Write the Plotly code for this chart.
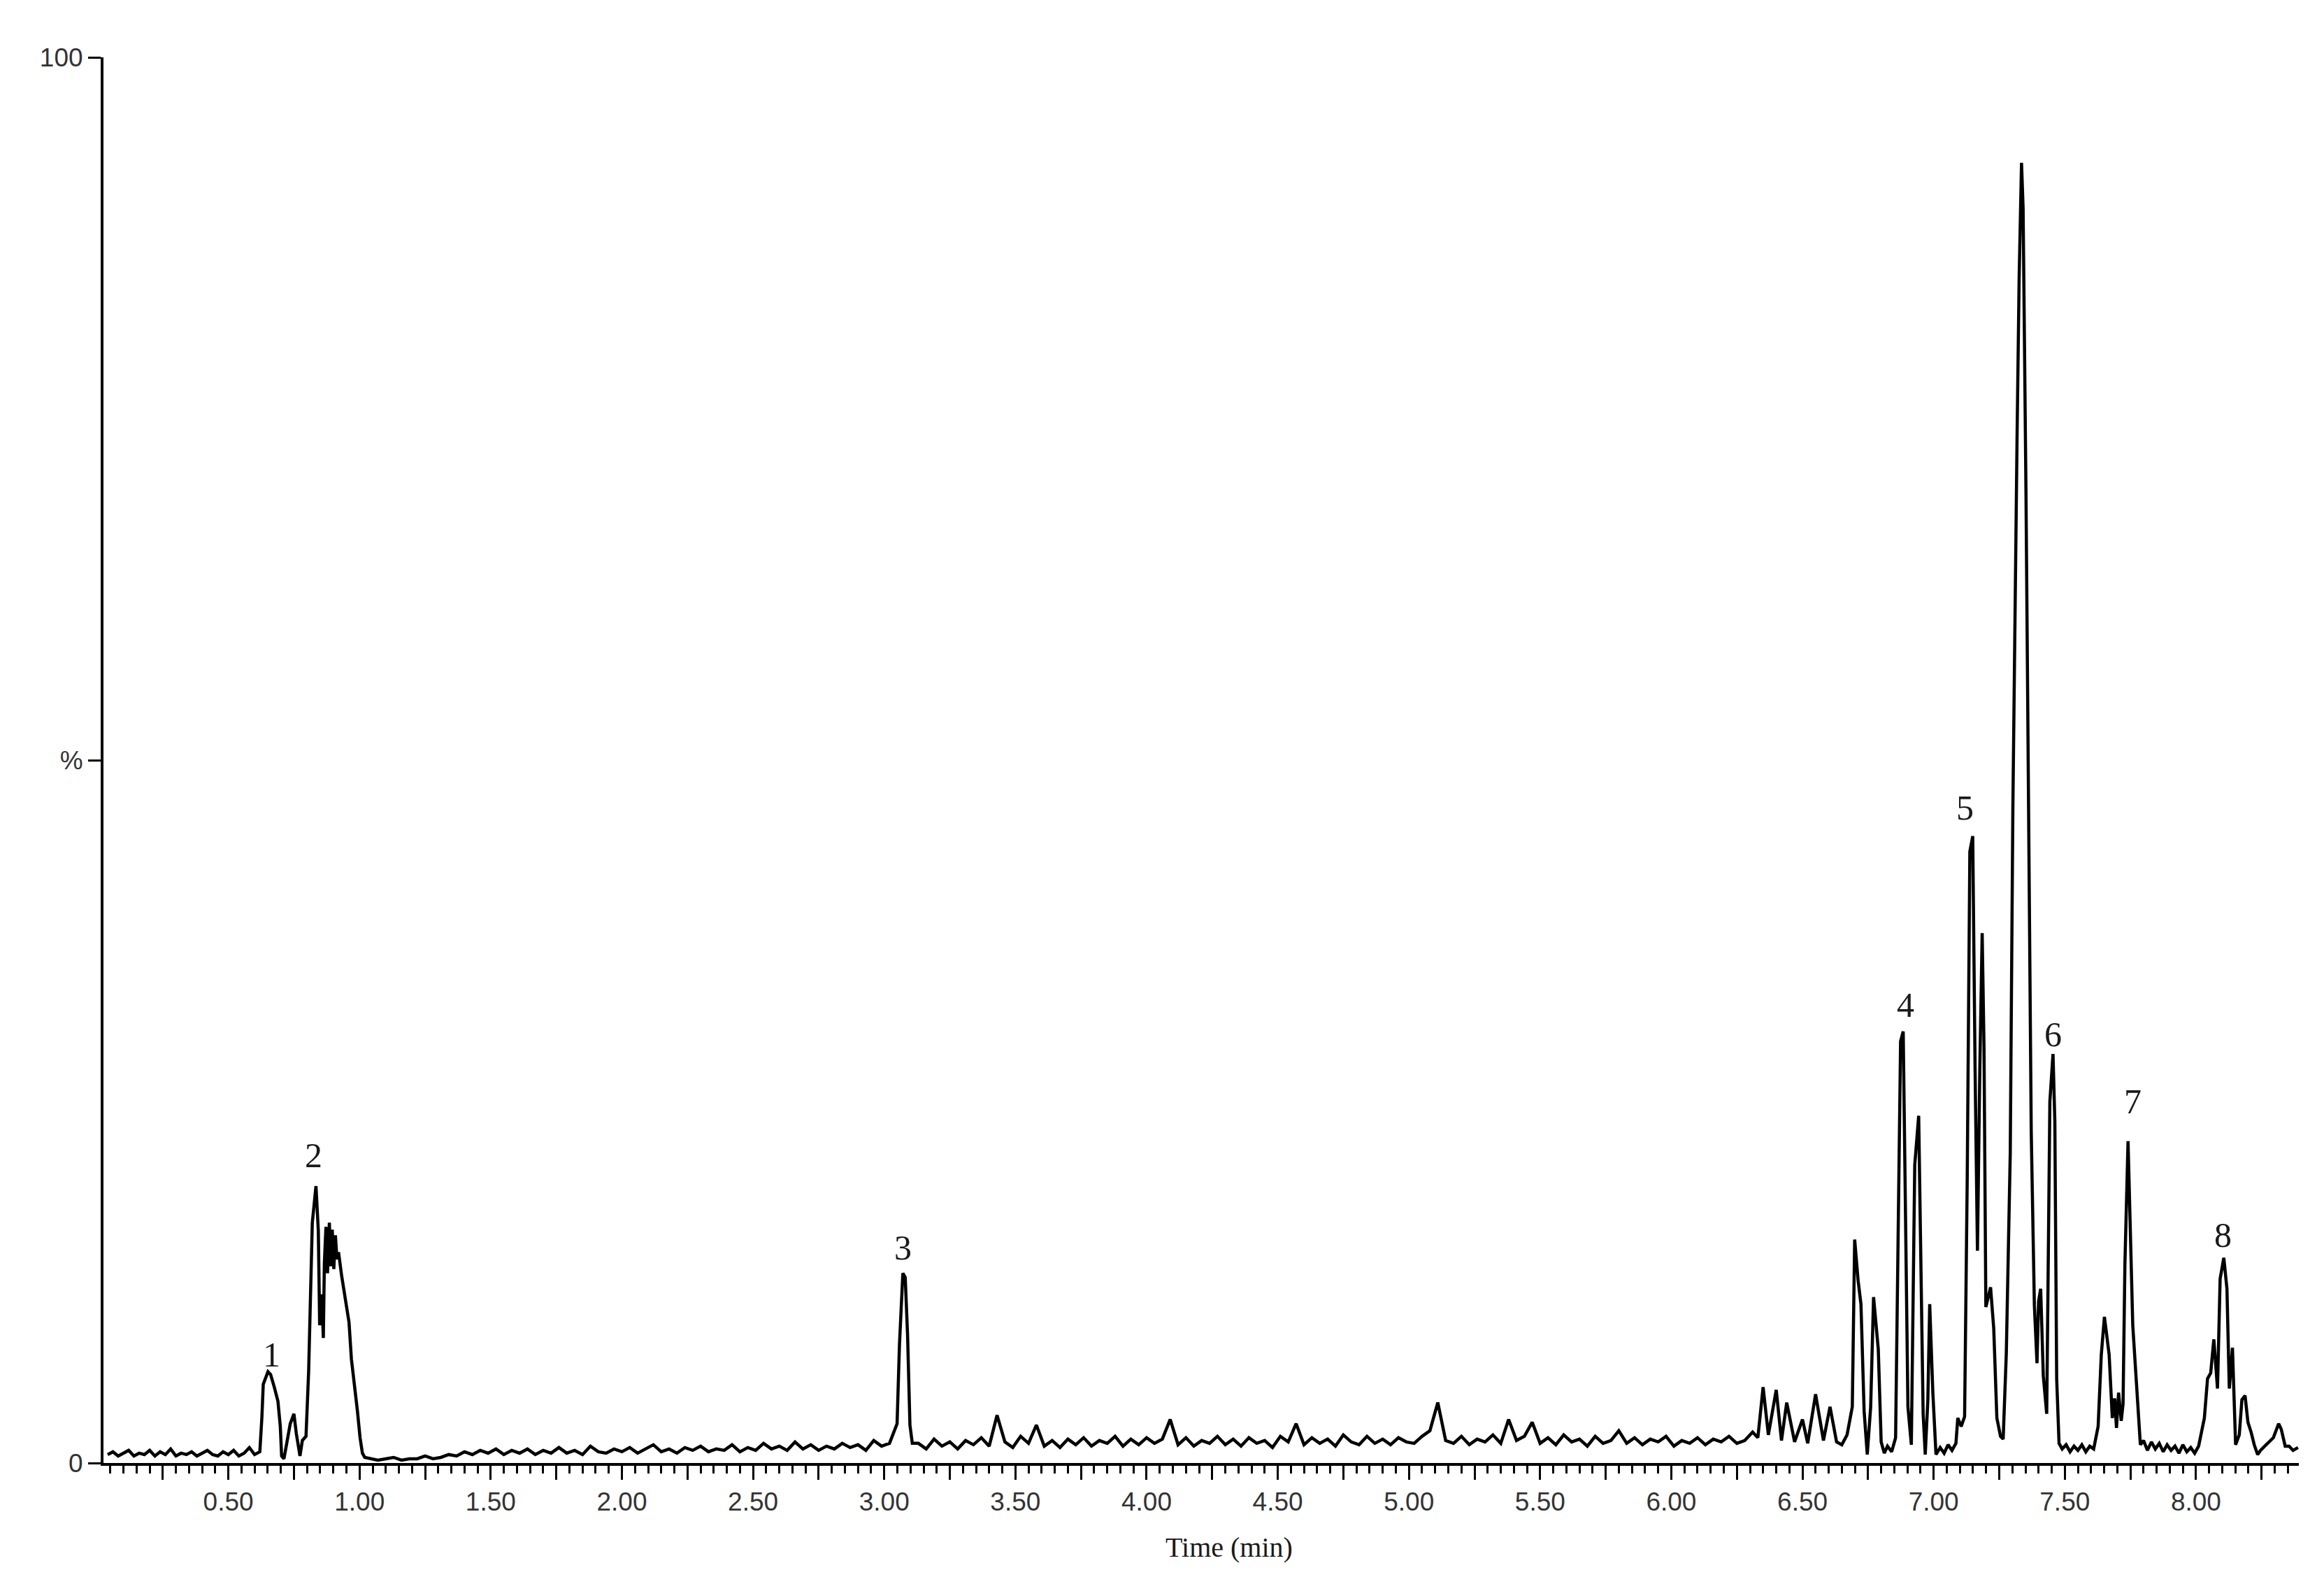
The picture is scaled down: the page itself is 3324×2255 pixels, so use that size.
import plotly.graph_objects as go

# retention time (min) and relative intensity (%)
t_front = [0.04, 0.06, 0.08, 0.10, 0.12, 0.14, 0.16, 0.18, 0.20, 0.22,
           0.24, 0.26, 0.28, 0.30, 0.32, 0.34, 0.36, 0.38, 0.40, 0.42,
           0.44, 0.46, 0.48, 0.50, 0.52, 0.54, 0.56, 0.58, 0.60, 0.62,
           0.628, 0.633, 0.651, 0.661, 0.675, 0.689, 0.698, 0.703, 0.712, 0.722,
           0.736, 0.750, 0.759, 0.773, 0.782, 0.796, 0.806, 0.820, 0.834, 0.843,
           0.848, 0.856, 0.862, 0.866, 0.872, 0.878, 0.885, 0.890, 0.896, 0.902,
           0.908, 0.914, 0.920, 0.932, 0.946, 0.960, 0.969, 0.983, 0.992, 1.002,
           1.011, 1.020]
i_front = [0.6, 0.8, 0.5, 0.7, 0.9, 0.5, 0.7, 0.6, 0.9, 0.5,
           0.8, 0.6, 1.0, 0.5, 0.7, 0.6, 0.8, 0.5, 0.7, 0.9,
           0.6, 0.5, 0.8, 0.6, 0.9, 0.5, 0.7, 1.1, 0.6, 0.8,
           3.3, 5.6, 6.5, 6.3, 5.4, 4.4, 2.6, 0.5, 0.3, 1.4,
           2.8, 3.5, 2.1, 0.5, 1.6, 1.9, 6.5, 17.1, 19.7, 16.5,
           9.8, 12.0, 8.9, 14.2, 16.8, 13.5, 17.1, 14.0, 16.6, 13.8,
           16.2, 14.5, 15.0, 13.3, 11.5, 10.0, 7.4, 5.3, 3.7, 1.8,
           0.7, 0.4]

t_mid = [1.04, 1.07, 1.10, 1.13, 1.16, 1.19, 1.22, 1.25, 1.28, 1.31,
         1.34, 1.37, 1.40, 1.43, 1.46, 1.49, 1.52, 1.55, 1.58, 1.61,
         1.64, 1.67, 1.70, 1.73, 1.76, 1.79, 1.82, 1.85, 1.88, 1.91,
         1.94, 1.97, 2.00, 2.03, 2.06, 2.09, 2.12, 2.15, 2.18, 2.21,
         2.24, 2.27, 2.30, 2.33, 2.36, 2.39, 2.42, 2.45, 2.48, 2.51,
         2.54, 2.57, 2.60, 2.63, 2.66, 2.69, 2.72, 2.75, 2.78, 2.81,
         2.84, 2.87, 2.90, 2.93, 2.96, 2.99, 3.02,
         3.049, 3.058, 3.071, 3.080, 3.089, 3.098, 3.107]
i_mid = [0.3, 0.2, 0.3, 0.4, 0.2, 0.3, 0.3, 0.5, 0.3, 0.4,
         0.6, 0.5, 0.8, 0.6, 0.9, 0.7, 1.0, 0.6, 0.9, 0.7,
         1.0, 0.6, 0.9, 0.7, 1.1, 0.7, 0.9, 0.6, 1.2, 0.8,
         0.7, 1.0, 0.8, 1.1, 0.7, 1.0, 1.3, 0.8, 1.0, 0.7,
         1.1, 0.9, 1.2, 0.8, 1.0, 0.9, 1.3, 0.8, 1.1, 0.9,
         1.4, 1.0, 1.2, 0.9, 1.5, 1.0, 1.3, 0.9, 1.2, 1.0,
         1.4, 1.1, 1.3, 0.9, 1.6, 1.2, 1.4,
         2.8, 8.4, 13.5, 13.2, 9.1, 2.7, 1.4]

t_back = [3.13, 3.16, 3.19, 3.22, 3.25, 3.28, 3.31, 3.34, 3.37, 3.40,
          3.43, 3.46, 3.49, 3.52, 3.55, 3.58, 3.61, 3.64, 3.67, 3.70,
          3.73, 3.76, 3.79, 3.82, 3.85, 3.88, 3.91, 3.94, 3.97, 4.00,
          4.03, 4.06, 4.09, 4.12, 4.15, 4.18, 4.21, 4.24, 4.27, 4.30,
          4.33, 4.36, 4.39, 4.42, 4.45, 4.48, 4.51, 4.54, 4.57, 4.60,
          4.63, 4.66, 4.69, 4.72, 4.75, 4.78, 4.81, 4.84, 4.87, 4.90,
          4.93, 4.96, 4.99, 5.02, 5.05, 5.08, 5.11, 5.14, 5.17, 5.20,
          5.23, 5.26, 5.29, 5.32, 5.35, 5.38, 5.41, 5.44, 5.47, 5.50,
          5.53, 5.56, 5.59, 5.62, 5.65, 5.68, 5.71, 5.74, 5.77, 5.80,
          5.83, 5.86, 5.89, 5.92, 5.95, 5.98, 6.01, 6.04, 6.07, 6.10,
          6.13, 6.16, 6.19, 6.22, 6.25, 6.28, 6.31]
i_back = [1.4, 1.0, 1.7, 1.2, 1.5, 1.0, 1.6, 1.3, 1.8, 1.2,
          3.4, 1.5, 1.1, 1.9, 1.4, 2.7, 1.2, 1.6, 1.1, 1.7,
          1.3, 1.8, 1.2, 1.6, 1.4, 1.9, 1.2, 1.7, 1.3, 1.8,
          1.4, 1.7, 3.1, 1.3, 1.8, 1.2, 1.6, 1.4, 1.9, 1.3,
          1.7, 1.2, 1.8, 1.4, 1.6, 1.1, 1.9, 1.5, 2.8, 1.3,
          1.8, 1.4, 1.7, 1.2, 2.0, 1.5, 1.3, 1.9, 1.4, 1.7,
          1.3, 1.8, 1.5, 1.4, 1.9, 2.3, 4.3, 1.6, 1.4, 1.9,
          1.3, 1.7, 1.5, 2.0, 1.4, 3.1, 1.6, 1.9, 2.9, 1.4,
          1.8, 1.3, 2.0, 1.5, 1.7, 1.2, 1.9, 1.4, 1.6, 2.3,
          1.4, 1.8, 1.3, 1.7, 1.5, 1.9, 1.2, 1.6, 1.4, 1.8,
          1.3, 1.7, 1.5, 1.9, 1.4, 1.6, 2.2]

t_late = [6.33, 6.35, 6.37, 6.40, 6.42, 6.44, 6.47, 6.50, 6.52, 6.55,
          6.58, 6.605, 6.63, 6.65, 6.67, 6.69, 6.699, 6.712, 6.723, 6.735,
          6.747, 6.760, 6.771, 6.789, 6.800, 6.812, 6.824, 6.840, 6.855, 6.862,
          6.874, 6.884, 6.893, 6.902, 6.915, 6.928, 6.943, 6.952, 6.960, 6.968,
          6.978, 6.985, 6.997, 7.009, 7.025, 7.040, 7.055, 7.070, 7.085, 7.092,
          7.105, 7.118, 7.128, 7.138, 7.149, 7.158, 7.167, 7.176, 7.185, 7.192,
          7.199, 7.217, 7.229, 7.241, 7.255, 7.265, 7.277, 7.292, 7.302, 7.318,
          7.326, 7.335, 7.341, 7.352, 7.362, 7.372, 7.384, 7.394, 7.400, 7.408,
          7.418, 7.431, 7.443, 7.455, 7.462, 7.469, 7.478, 7.490, 7.505, 7.520,
          7.535, 7.550, 7.565, 7.580, 7.595, 7.610, 7.627, 7.639, 7.651, 7.669,
          7.681, 7.690, 7.697, 7.705, 7.715, 7.722, 7.729, 7.741, 7.759, 7.776,
          7.788, 7.800, 7.815, 7.830, 7.845, 7.860, 7.875, 7.890, 7.905, 7.920,
          7.935, 7.950, 7.965, 7.980, 7.995, 8.010, 8.032, 8.044, 8.056, 8.068,
          8.082, 8.092, 8.106, 8.118, 8.127, 8.139, 8.151, 8.165, 8.175, 8.187,
          8.198, 8.210, 8.222, 8.235, 8.246, 8.262, 8.280, 8.295, 8.315, 8.325,
          8.340, 8.355, 8.370, 8.389]
i_late = [1.8, 5.4, 2.0, 5.2, 1.6, 4.3, 1.5, 3.1, 1.4, 4.9,
          1.6, 4.0, 1.5, 1.3, 2.0, 4.0, 15.9, 13.0, 11.3, 3.7,
          0.6, 4.0, 11.8, 8.1, 1.5, 0.7, 1.2, 0.8, 1.8, 12.0,
          30.0, 30.7, 15.5, 4.0, 1.3, 21.2, 24.7, 14.6, 3.5, 0.6,
          4.5, 11.3, 5.0, 0.6, 1.1, 0.7, 1.3, 0.9, 1.4, 3.2,
          2.6, 3.3, 20.2, 43.5, 44.6, 28.0, 15.1, 28.0, 37.7, 29.6,
          11.1, 12.5, 9.6, 3.2, 1.9, 1.7, 7.8, 22.0, 46.6, 73.0,
          84.4, 92.5, 89.3, 69.0, 43.6, 23.6, 11.2, 7.1, 11.5, 12.4,
          6.2, 3.5, 25.7, 29.1, 24.3, 6.0, 1.4, 1.0, 1.3, 0.8,
          1.2, 0.9, 1.3, 0.8, 1.2, 1.0, 2.6, 7.7, 10.4, 7.7,
          3.2, 4.6, 2.5, 5.0, 3.0, 4.2, 14.1, 22.9, 9.8, 5.0,
          1.3, 1.6, 0.9, 1.5, 1.0, 1.4, 0.8, 1.3, 0.9, 1.2,
          0.7, 1.3, 0.8, 1.1, 0.7, 1.2, 3.2, 6.0, 6.4, 8.8,
          5.3, 13.1, 14.6, 12.4, 5.3, 8.2, 1.3, 2.0, 4.5, 4.8,
          2.9, 2.2, 1.3, 0.6, 0.9, 1.2, 1.5, 1.8, 2.8, 2.4,
          1.2, 1.2, 0.9, 1.1]

# numbered peaks: label, time, height of the label
peak_names = ["1", "2", "3", "4", "5", "6", "7", "8"]
peak_times = [0.666, 0.825, 3.071, 6.892, 7.119, 7.455, 7.759, 8.104]
peak_label_y = [7.7, 21.9, 15.3, 32.6, 46.6, 30.5, 25.7, 16.2]

x_labels = ["0.50", "1.00", "1.50", "2.00", "2.50", "3.00", "3.50", "4.00",
            "4.50", "5.00", "5.50", "6.00", "6.50", "7.00", "7.50", "8.00"]
y_ticks = [0, 50, 100]
y_labels = ["0", "%", "100"]

t = t_front + t_mid + t_back + t_late
inten = i_front + i_mid + i_back + i_late
assert len(t) == len(inten)

# long ticks every 0.25 min, labelled every 0.5 min
major = [round(0.25 * k, 2) for k in range(1, 34)]
label_map = {float(s): s for s in x_labels}
major_text = [label_map.get(v, "") for v in major]

tick_font = dict(family="Liberation Sans Narrow, Liberation Sans, Arial", size=37, color="#333333")
serif = "Liberation Serif, Times New Roman, serif"

fig = go.Figure()
fig.add_trace(go.Scatter(x=t, y=inten, mode="lines",
                         line=dict(color="black", width=4.5),
                         hoverinfo="skip"))

for name, px_, py_ in zip(peak_names, peak_times, peak_label_y):
    fig.add_annotation(x=px_, y=py_, text=name, showarrow=False,
                       xanchor="center", yanchor="middle",
                       font=dict(family=serif, size=50, color="#1a1a1a"))

fig.add_annotation(x=4.315, y=-0.06, xref="x", yref="paper", text="Time (min)",
                   showarrow=False, xanchor="center", yanchor="middle",
                   font=dict(family=serif, size=40, color="#1a1a1a"))

fig.update_layout(
    width=3324, height=2255,
    margin=dict(l=140, r=44, t=74, b=171),
    paper_bgcolor="white", plot_bgcolor="white",
    showlegend=False,
    xaxis=dict(range=[0.024, 8.392], showgrid=False, zeroline=False,
               showline=True, linecolor="black", linewidth=4,
               ticks="outside", ticklen=20, tickwidth=3, tickcolor="black",
               tickvals=major, ticktext=major_text, tickfont=tick_font,
               minor=dict(dtick=0.05, tick0=0, ticks="outside", ticklen=11,
                          tickwidth=3, tickcolor="black")),
    yaxis=dict(range=[0, 100], showgrid=False, zeroline=False,
               showline=True, linecolor="black", linewidth=4,
               ticks="outside", ticklen=18, tickwidth=3, tickcolor="black",
               tickvals=y_ticks, ticktext=y_labels, tickfont=tick_font),
)

fig.write_html("out.html")
